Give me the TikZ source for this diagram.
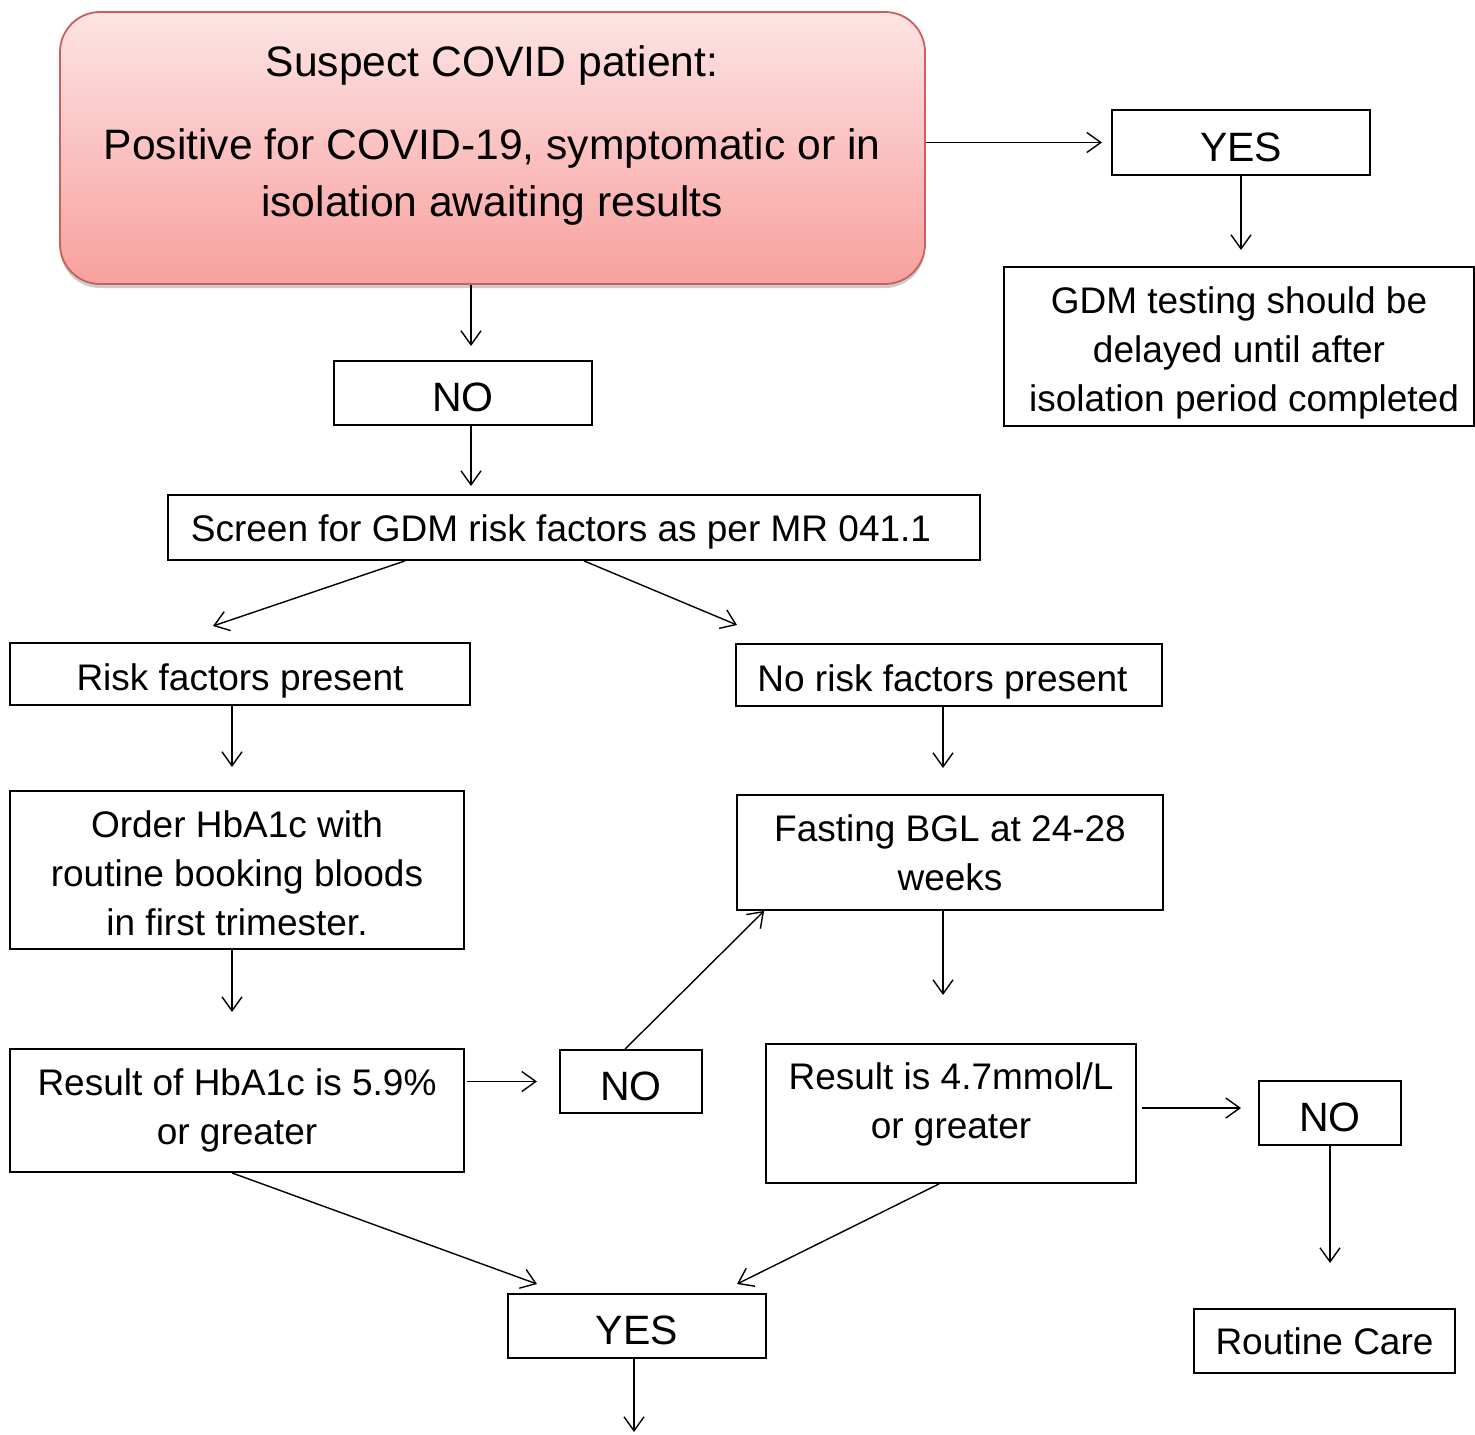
\documentclass[tikz,border=0pt]{standalone}
\usepackage{fontspec}
\setmainfont{Liberation Sans}
\usetikzlibrary{arrows.meta,shadows}
\definecolor{boxred}{HTML}{C9605C}
\definecolor{pinktop}{HTML}{FDE4E4}
\definecolor{pinkbot}{HTML}{F8A09E}
\tikzset{
  stepbox/.style={draw, line width=0.9pt, align=center, inner sep=2pt,
    font=\fontsize{18.5}{24.5}\selectfont},
  answer/.style={stepbox, text height=18.7pt, text depth=0pt,
    font=\fontsize{20.5}{24}\selectfont},
  covidbox/.style={draw=boxred, line width=0.9pt, rounded corners=20pt,
    top color=pinktop, bottom color=pinkbot,
    drop shadow={shadow xshift=0pt, shadow yshift=-2pt, opacity=0.4}},
  flow/.style={line width=0.7pt, -{Straight Barb[length=7pt,width=10pt]}}
}
\begin{document}
\begin{tikzpicture}[x=0.5pt, y=-0.5pt]
      \useasboundingbox (0,0) rectangle (1475,1434);
      \draw
        (492.5,148) node[covidbox, minimum width=432.5pt, minimum height=136pt] (covid){}
        (492,135) node[align=center, font=\fontsize{21.3}{28.5}\selectfont] (covidtxt)
          {Suspect COVID patient:\\[13pt]Positive for COVID-19, symptomatic or in\\isolation awaiting results}
        (1241,142.5) node[answer, minimum width=129pt, minimum height=32.5pt] (yes1){YES}
        (1239,346.5) node[stepbox, minimum width=235pt, minimum height=79.5pt] (gdm)
          {\rule{0pt}{20pt}GDM testing should be\\delayed until after\\isolation period completed\hspace*{-5pt}}
        (463,393) node[answer, minimum width=129pt, minimum height=32pt] (no1){NO}
        (574,527.5) node[stepbox, minimum width=406pt, minimum height=32.5pt] (screen)
          {\rule{0pt}{17.5pt}Screen for GDM risk factors as per MR 041.1\hspace*{13pt}}
        (240,674) node[stepbox, minimum width=230pt, minimum height=31pt, text height=16.1pt, text depth=0pt] (risk)
          {Risk factors present}
        (949,675) node[stepbox, minimum width=213pt, minimum height=31pt, text height=16.1pt, text depth=0pt] (norisk)
          {No risk factors present\hspace*{6.5pt}}
        (237,870) node[stepbox, minimum width=227pt, minimum height=79pt] (order)
          {\rule{0pt}{16.5pt}Order HbA1c with\\routine booking bloods\\in first trimester.}
        (950,852.5) node[stepbox, minimum width=213pt, minimum height=57.5pt] (fasting)
          {Fasting BGL at 24-28\\weeks}
        (237,1110.5) node[stepbox, minimum width=227pt, minimum height=61.5pt] (hba)
          {Result of HbA1c is 5.9\%\\or greater}
        (631,1081.5) node[answer, minimum width=71pt, minimum height=31.5pt] (no2){NO}
        (951,1113.5) node[stepbox, minimum width=185pt, minimum height=69.5pt] (res)
          {Result is 4.7mmol/L\\or greater\rule[-13.2pt]{0pt}{13.2pt}}
        (1330,1113) node[answer, minimum width=71pt, minimum height=32pt] (no3){NO}
        (1324.5,1341) node[stepbox, minimum width=130.5pt, minimum height=32pt] (routine){Routine Care}
        (637,1326) node[answer, minimum width=129pt, minimum height=32pt] (yes2){YES};
      % free arrow ends
      \coordinate (e1) at (1102,142.5);
      \coordinate (e2) at (1241,250);
      \coordinate (e3) at (471,346);
      \coordinate (e4) at (471,486);
      \coordinate (e5) at (213,626);
      \coordinate (e6) at (737,625);
      \coordinate (e7) at (232,767);
      \coordinate (e8) at (943,768);
      \coordinate (e9) at (232,1012);
      \coordinate (e10) at (943,995);
      \coordinate (e11) at (537,1081.5);
      \coordinate (e13) at (1241,1108);
      \coordinate (e14) at (1330,1263);
      \coordinate (e15) at (537,1284);
      \coordinate (e16) at (737,1284);
      \coordinate (e17) at (634,1432);
      \begin{scope}[flow]
        \draw (covid.east |- yes1) to (e1);
        \draw (yes1.south) to (e2);
        \draw ([xshift=-10.75pt]covid.south) to (e3);
        \draw ([xshift=4pt]no1.south) to (e4);
        \draw ([xshift=-84.5pt]screen.south) to (e5);
        \draw ([xshift=5pt]screen.south) to (e6);
        \draw ([xshift=-4pt]risk.south) to (e7);
        \draw ([xshift=-3pt]norisk.south) to (e8);
        \draw ([xshift=-2.5pt]order.south) to (e9);
        \draw ([xshift=-3.5pt]fasting.south) to (e10);
        \draw ([xshift=1pt]hba.east |- no2) to (e11);
        \draw ([xshift=-3pt]no2.north) to ([xshift=14pt]fasting.south west);
        \draw ([xshift=2.5pt,yshift=2.75pt]res.east) to (e13);
        \draw (no3.south) to (e14);
        \draw ([xshift=-2.5pt]hba.south) to (e15);
        \draw ([xshift=-6pt]res.south) to (e16);
        \draw ([xshift=-1.5pt]yes2.south) to (e17);
      \end{scope}
    \end{tikzpicture}
\end{document}
